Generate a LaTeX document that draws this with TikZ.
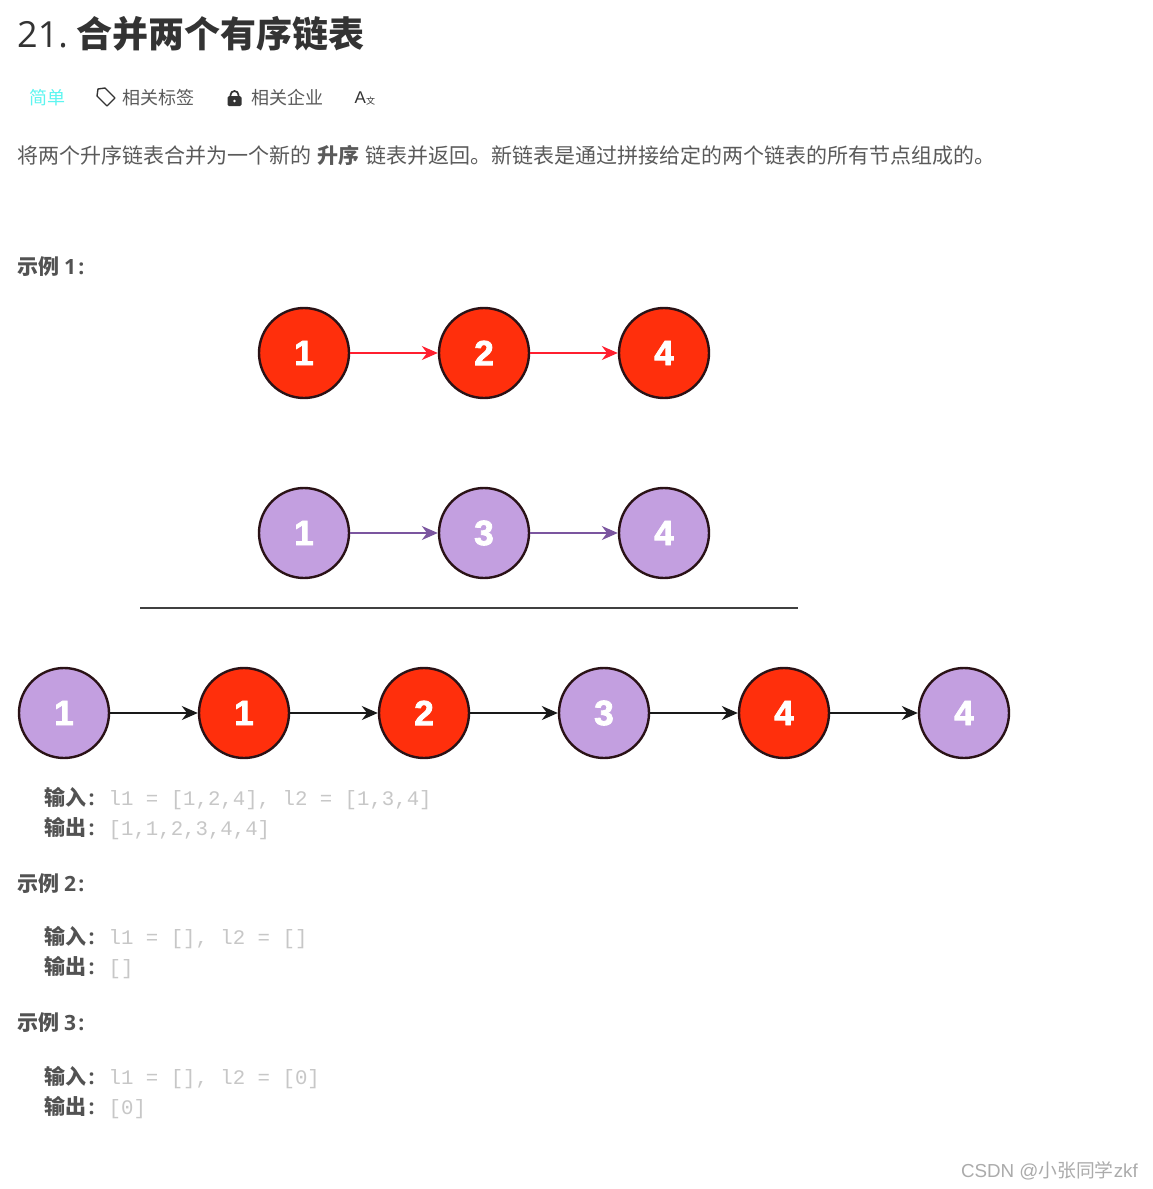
\documentclass[tikz,border=0pt]{standalone}
\usepackage{fontspec}
\setmainfont{Noto Sans CJK SC}
\setmonofont{Liberation Mono}
\newfontfamily\latinfont{Open Sans}
\newfontfamily\markfont{Liberation Sans}
\newfontfamily\ballfont[UprightFont=* Bold, FakeBold=2.5]{Liberation Sans}
\usetikzlibrary{arrows.meta}
\definecolor{nodered}{HTML}{FF2F0C}
\definecolor{nodepurple}{HTML}{C39FE0}
\definecolor{ballrim}{HTML}{2A1216}
\definecolor{linkpurple}{HTML}{7B559F}
\definecolor{linkred}{HTML}{FF1F2F}
\definecolor{bodygray}{HTML}{5A5A5A}
\definecolor{titlegray}{HTML}{333333}
\definecolor{easycyan}{HTML}{5DF5F0}
\newcommand{\colonmark}{\hspace{2.5pt}{\latinfont:}}

\begin{document}
\begin{tikzpicture}[x=1pt, y=-1pt, >={Stealth[length=16pt,width=14pt]},
    redball/.style={circle, draw=ballrim, line width=2.4pt, fill=nodered, minimum size=90pt, inner sep=0pt, text=white, font=\ballfont\fontsize{35}{35}\selectfont},
    purpleball/.style={redball, fill=nodepurple},
    redlink/.style={->, linkred, line width=1.4pt},
    purplelink/.style={->, linkpurple, line width=1.4pt},
    blacklink/.style={->, black!90, line width=1.6pt},
    bodytext/.style={anchor=base west, inner sep=0pt, text=bodygray, font=\fontsize{21}{21}\selectfont},
    tagtext/.style={bodytext, font=\fontsize{18}{18}\selectfont},
    headtext/.style={bodytext, text=titlegray!85, font=\fontsize{21}{21}\selectfont\bfseries},
    codetext/.style={anchor=base west, inner sep=0pt, text=black!22, font=\ttfamily\fontsize{20.7}{20.7}\selectfont}]
    \useasboundingbox[fill=white] (0,0) rectangle (1153,1189);

    % page head
    \node[anchor=base west, inner sep=0pt, text=titlegray, font=\latinfont\fontsize{36}{36}\selectfont] (num) at (17,47) {21.};
    \node[anchor=base west, inner sep=0pt, text=titlegray, font=\fontsize{36}{36}\selectfont\bfseries] (title) at (76,47) {合并两个有序链表};
    \node[tagtext, text=easycyan] (easy) at (29,104) {简单};
    \node[tagtext] (tags) at (122,104) {相关标签};
    \node[tagtext] (firms) at (251,104) {相关企业};
    \node[anchor=base west, inner sep=0pt, text=titlegray, font=\markfont\fontsize{17}{17}\selectfont] (lang) at (354.5,103.5) {A};
    \node[anchor=base west, inner sep=0pt, text=titlegray, font=\fontsize{9}{9}\selectfont] (langb) at (366,104) {文};

    % tag and lock icons
    \draw[titlegray, line width=1.4pt, line join=round] (98,89) -- (105,88) -- (115,98) -- (107,106) -- (97,96) -- cycle;
    \fill[titlegray, rounded corners=1.5pt] (227.5,96) rectangle (241.5,106);
    \draw[titlegray, line width=1.7pt] (230.5,97) -- (230.5,95) arc[start angle=180, end angle=360, radius=4] -- (238.5,97);
    \fill[white] (234.5,101) circle[radius=1.4];

    \node[bodytext] (introa) at (17,163) {将两个升序链表合并为一个新的};
    \node[bodytext, font=\fontsize{21}{21}\selectfont\bfseries] (introb) at (317,163) {升序};
    \node[bodytext] (introc) at (365,163) {链表并返回。新链表是通过拼接给定的两个链表的所有节点组成的。};

    \node[headtext] (exa) at (17,274) {示例 {\latinfont 1}\colonmark};

    % first list
    \node[redball] (a1) at (304,353) {1};
    \node[redball] (a2) at (484,353) {2};
    \node[redball] (a4) at (664,353) {4};
    \draw[redlink] (a1) -- (a2);
    \draw[redlink] (a2) -- (a4);

    % second list
    \node[purpleball] (b1) at (304,533) {1};
    \node[purpleball] (b3) at (484,533) {3};
    \node[purpleball] (b4) at (664,533) {4};
    \draw[purplelink] (b1) -- (b3);
    \draw[purplelink] (b3) -- (b4);

    \coordinate (ruleL) at (140,607.5);
    \coordinate (ruleR) at (798,607.5);
    \draw[black!75, line width=2pt] (ruleL) -- (ruleR);

    % merged list
    \node[purpleball] (c1) at (64,713) {1};
    \node[redball] (c2) at (244,713) {1};
    \node[redball] (c3) at (424,713) {2};
    \node[purpleball] (c4) at (604,713) {3};
    \node[redball] (c5) at (784,713) {4};
    \node[purpleball] (c6) at (964,713) {4};
    \foreach \from/\to in {c1/c2,c2/c3,c3/c4,c4/c5,c5/c6}
        \draw[blacklink] (\from) -- (\to);

    % examples
    \node[headtext] (ina) at (44,805) {输入\colonmark};
    \node[codetext] (inacode) at (108.5,805) {l1 = [1,2,4], l2 = [1,3,4]};
    \node[headtext] (outa) at (44,835) {输出\colonmark};
    \node[codetext] (outacode) at (108.5,835) {[1,1,2,3,4,4]};

    \node[headtext] (exb) at (17,891) {示例 {\latinfont 2}\colonmark};
    \node[headtext] (inb) at (44,944) {输入\colonmark};
    \node[codetext] (inbcode) at (108.5,944) {l1 = [], l2 = []};
    \node[headtext] (outb) at (44,974) {输出\colonmark};
    \node[codetext] (outbcode) at (108.5,974) {[]};

    \node[headtext] (exc) at (17,1030) {示例 {\latinfont 3}\colonmark};
    \node[headtext] (inc) at (44,1084) {输入\colonmark};
    \node[codetext] (inccode) at (108.5,1084) {l1 = [], l2 = [0]};
    \node[headtext] (outc) at (44,1114) {输出\colonmark};
    \node[codetext] (outccode) at (108.5,1114) {[0]};

    \node[anchor=base east, inner sep=0pt, text=black!33, font=\fontsize{18.8}{18.8}\selectfont] (mark) at (1138,1177) {{\markfont CSDN @}小张同学{\markfont zkf}};
\end{tikzpicture}
\end{document}
